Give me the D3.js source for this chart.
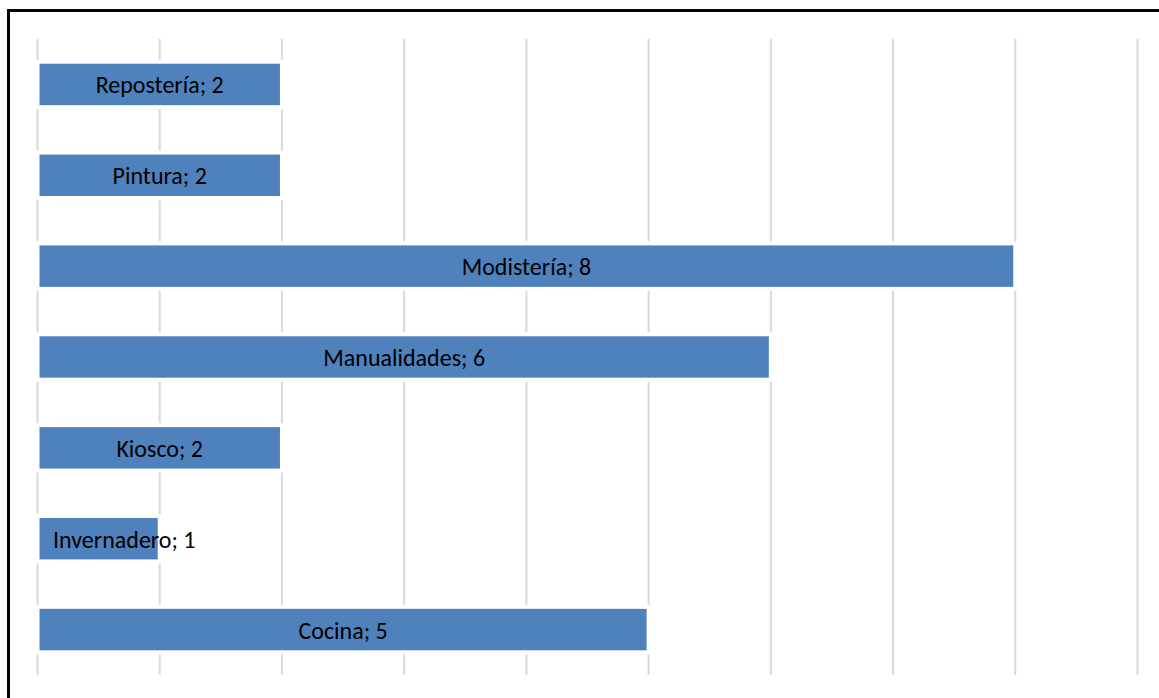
<!DOCTYPE html>
<html>
<head>
<meta charset="utf-8">
<script src="https://cdn.jsdelivr.net/npm/d3@7"></script>
<style>
  html, body { margin: 0; padding: 0; background: #fff; }
  svg { display: block; }
</style>
</head>
<body>
<svg id="chart" width="1159" height="698"></svg>
<script>
// Talleres y número de participantes
const categories = ["Repostería", "Pintura", "Modistería", "Manualidades", "Kiosco", "Invernadero", "Cocina"];
const values = [2, 2, 8, 6, 2, 1, 5];
const tickValues = [0, 1, 2, 3, 4, 5, 6, 7, 8, 9];

const svg = d3.select("#chart");
const W = 1159, H = 698;

// Outer frame
svg.append("rect")
  .attr("x", 8.5).attr("y", 10.5)
  .attr("width", W + 10).attr("height", H + 10)
  .attr("fill", "#fff").attr("stroke", "#000").attr("stroke-width", 3);

const x = d3.scaleLinear().domain([0, 9]).range([37.5, 1137.5]);
const y = d3.scaleBand().domain(categories).range([39, 675]).paddingInner(0.5).paddingOuter(0.25);

// Vertical gridlines
svg.append("g")
  .selectAll("line")
  .data(tickValues)
  .join("line")
  .attr("x1", d => x(d)).attr("x2", d => x(d))
  .attr("y1", 39).attr("y2", 675)
  .attr("stroke", "#d9d9d9").attr("stroke-width", 2);

const data = categories.map((c, i) => ({ c, v: values[i] }));

// Bars with a white outline
svg.append("g")
  .selectAll("rect")
  .data(data)
  .join("rect")
  .attr("x", x(0))
  .attr("y", d => y(d.c))
  .attr("width", d => x(d.v) - x(0))
  .attr("height", y.bandwidth())
  .attr("fill", "#4f81bd")
  .attr("stroke", "#fff")
  .attr("stroke-width", 4);

// Data labels "Categoría; valor"
const labels = svg.append("g")
  .selectAll("text")
  .data(data)
  .join("text")
  .attr("y", d => y(d.c) + y.bandwidth() / 2 + 0.5)
  .attr("dominant-baseline", "central")
  .attr("font-family", "Carlito, Calibri, Lato, 'Liberation Sans', sans-serif")
  .attr("font-size", 24)
  .attr("fill", "#000")
  .text(d => `${d.c}; ${d.v}`);

labels.each(function(d) {
  const w = this.getComputedTextLength();
  const cx = (x(0) + x(d.v)) / 2;
  const start = Math.max(cx - w / 2, x(0) + 15.5);
  d3.select(this).attr("x", start);
});
</script>
</body>
</html>
